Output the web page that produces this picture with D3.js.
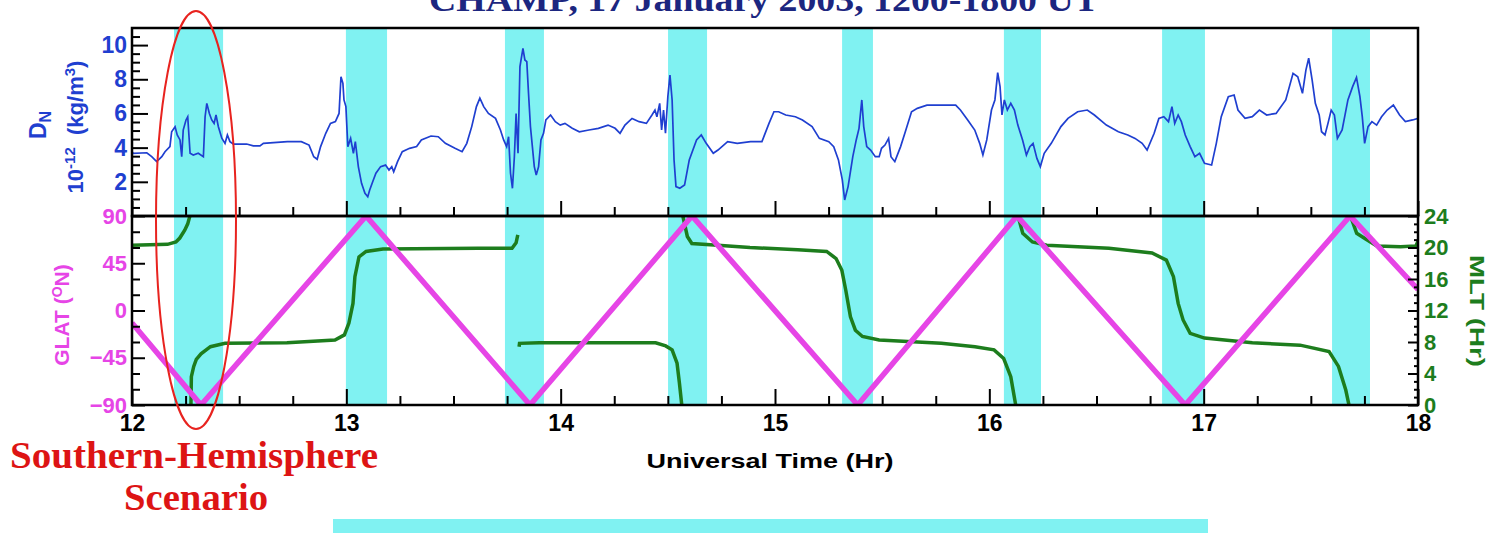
<!DOCTYPE html>
<html>
<head>
<meta charset="utf-8">
<script src="https://cdn.jsdelivr.net/npm/d3@7"></script>
<style>
  body { margin: 0; background: #fff; }
  svg { display: block; }
  .tick text { font-family: "Liberation Sans", Arial, sans-serif; font-weight: bold; }
</style>
</head>
<body>
<svg id="chart" width="1497" height="533"></svg>
<script>
// shaded intervals (UT hours)
var bandStart = [12.196, 12.998, 13.740, 14.501, 15.313, 16.068, 16.806, 17.599];
var bandEnd   = [12.425, 13.190, 13.922, 14.683, 15.457, 16.241, 17.006, 17.776];

// neutral density, 10^-12 kg/m3  [UT, DN]
var dnData = [
  [12.000,3.76],[12.006,3.67],[12.069,3.70],[12.092,3.47],[12.115,3.18],[12.139,3.47],[12.154,3.76],[12.177,4.06],
  [12.185,4.93],[12.201,5.22],[12.211,4.74],[12.224,4.45],[12.232,3.47],[12.239,5.03],[12.252,5.62],[12.260,5.81],
  [12.271,3.67],[12.286,3.57],[12.309,3.67],[12.333,3.47],[12.341,5.81],[12.349,6.59],[12.361,6.00],[12.372,5.62],
  [12.383,5.42],[12.392,5.91],[12.403,5.22],[12.419,4.55],[12.434,4.25],[12.445,4.74],[12.457,4.35],[12.473,4.21],
  [12.535,4.21],[12.566,4.10],[12.597,4.10],[12.613,4.25],[12.725,4.35],[12.790,4.35],[12.826,4.15],[12.848,3.47],
  [12.864,3.32],[12.880,4.06],[12.904,4.84],[12.926,5.42],[12.949,5.52],[12.966,6.00],[12.975,8.15],[12.984,7.76],
  [12.989,6.79],[12.998,6.40],[13.007,4.06],[13.020,4.54],[13.033,3.67],[13.042,4.35],[13.056,2.89],[13.071,1.91],
  [13.087,1.33],[13.100,1.13],[13.109,1.52],[13.123,2.00],[13.138,2.50],[13.160,2.89],[13.183,2.98],[13.199,2.69],
  [13.212,2.89],[13.221,2.59],[13.239,3.18],[13.261,3.76],[13.295,3.96],[13.328,4.06],[13.350,4.45],[13.395,4.68],
  [13.429,4.64],[13.462,4.25],[13.507,3.96],[13.540,3.76],[13.562,4.25],[13.585,5.23],[13.607,6.40],[13.623,6.89],
  [13.641,6.40],[13.663,6.00],[13.696,5.71],[13.719,5.03],[13.734,4.45],[13.748,4.06],[13.757,4.64],[13.766,2.50],
  [13.775,1.62],[13.784,3.47],[13.792,6.00],[13.801,3.67],[13.810,8.74],[13.824,9.81],[13.833,9.13],[13.842,9.03],
  [13.850,7.18],[13.859,5.23],[13.868,4.06],[13.877,2.89],[13.886,2.40],[13.897,2.89],[13.908,4.45],[13.920,4.84],
  [13.931,5.62],[13.953,5.91],[13.975,5.52],[13.998,5.32],[14.020,5.42],[14.054,5.13],[14.087,4.93],[14.132,5.03],
  [14.176,5.13],[14.221,5.32],[14.254,5.13],[14.277,4.84],[14.300,5.32],[14.333,5.71],[14.366,5.52],[14.400,5.42],
  [14.426,5.91],[14.440,6.20],[14.449,5.81],[14.462,6.59],[14.471,5.03],[14.480,6.20],[14.489,4.84],[14.500,6.98],
  [14.510,8.25],[14.520,6.79],[14.529,3.28],[14.538,1.72],[14.556,1.62],[14.578,1.81],[14.600,3.28],[14.634,4.45],
  [14.656,4.74],[14.679,4.25],[14.712,3.67],[14.734,3.86],[14.779,4.35],[14.824,4.25],[14.886,4.35],[14.939,4.35],
  [14.972,5.42],[14.995,6.10],[15.017,6.10],[15.050,5.91],[15.095,5.81],[15.128,5.62],[15.173,5.23],[15.207,4.54],
  [15.251,4.35],[15.274,4.06],[15.296,3.28],[15.314,2.11],[15.325,0.94],[15.341,1.72],[15.363,3.47],[15.379,4.45],
  [15.392,5.13],[15.405,6.79],[15.414,5.23],[15.428,4.06],[15.446,3.86],[15.468,3.47],[15.486,3.47],[15.497,3.96],
  [15.513,4.15],[15.530,4.54],[15.541,3.47],[15.559,3.18],[15.586,4.06],[15.608,4.93],[15.637,6.10],[15.664,6.30],
  [15.709,6.49],[15.753,6.49],[15.843,6.49],[15.865,6.20],[15.899,5.62],[15.932,5.03],[15.955,4.25],[15.970,3.57],
  [15.988,4.45],[16.010,6.20],[16.026,6.79],[16.039,8.39],[16.050,7.57],[16.059,5.91],[16.070,6.79],[16.084,6.20],
  [16.100,6.59],[16.117,6.20],[16.133,5.32],[16.155,4.45],[16.173,3.57],[16.189,4.06],[16.204,4.25],[16.222,3.37],
  [16.238,2.89],[16.256,3.67],[16.289,4.25],[16.334,5.23],[16.367,5.71],[16.412,6.10],[16.457,6.20],[16.490,5.91],
  [16.546,5.32],[16.602,4.93],[16.646,4.74],[16.680,4.54],[16.713,4.25],[16.736,3.86],[16.769,4.84],[16.791,5.71],
  [16.814,5.81],[16.836,5.52],[16.852,6.40],[16.865,5.42],[16.881,5.91],[16.896,5.52],[16.914,4.74],[16.937,4.06],
  [16.959,3.47],[16.981,3.67],[17.004,3.08],[17.037,2.98],[17.059,4.25],[17.082,5.81],[17.115,6.98],[17.142,7.08],
  [17.160,6.20],[17.193,5.71],[17.227,5.81],[17.260,6.20],[17.294,5.91],[17.338,6.00],[17.383,6.79],[17.417,8.35],
  [17.439,8.15],[17.461,7.18],[17.477,8.54],[17.490,9.23],[17.506,7.96],[17.521,6.59],[17.539,5.91],[17.550,4.93],
  [17.566,4.74],[17.580,5.42],[17.595,6.20],[17.610,5.91],[17.624,4.54],[17.646,5.03],[17.673,6.79],[17.695,7.57],
  [17.713,8.11],[17.729,6.98],[17.740,5.81],[17.751,4.25],[17.767,5.23],[17.785,5.52],[17.807,5.32],[17.830,5.81],
  [17.856,6.20],[17.885,6.49],[17.914,5.91],[17.941,5.52],[17.975,5.62],[18.000,5.71]
];

// geographic latitude turning points [UT, deg N]
var latData = [[12.0,-12],[12.322,-90],[13.092,90],[13.857,-90],[14.613,90],[15.386,-90],[16.129,90],[16.914,-90],[17.683,90],[18.0,20]];

// magnetic local time [UT, hr], null = wrap/gap
var mltData = [
  [12.000,20.3],[12.166,20.4],[12.205,20.7],[12.223,21.2],[12.246,22.2],[12.260,23.0],[12.270,24.0],null,
  [12.275,0],[12.277,3.6],[12.288,4.9],[12.300,5.8],[12.322,6.5],[12.366,7.4],[12.434,7.83],[12.723,7.9],[12.947,8.25],
  [12.991,8.9],[13.012,10.4],[13.031,12.9],[13.040,16.3],[13.059,18.8],[13.092,19.5],[13.171,19.8],[13.614,19.9],
  [13.773,19.9],[13.792,20.6],[13.800,21.6],null,
  [13.806,7.4],[13.808,7.83],[13.900,7.9],[14.443,7.9],[14.490,7.5],[14.520,7.0],[14.543,5.3],[14.554,2.8],[14.565,0],null,
  [14.570,24],[14.591,21.4],[14.612,20.5],[14.733,20.3],[14.883,20.0],[15.106,19.7],[15.241,19.5],[15.285,18.6],
  [15.312,17.1],[15.330,14.6],[15.352,11.2],[15.375,9.5],[15.408,8.7],[15.486,8.25],[15.776,7.83],[15.933,7.4],
  [16.022,7.0],[16.067,5.9],[16.100,3.6],[16.123,0],null,
  [16.134,24],[16.156,21.8],[16.201,20.7],[16.268,20.3],[16.558,19.9],[16.759,19.3],[16.826,18.4],[16.859,16.3],
  [16.881,12.9],[16.904,10.8],[16.937,9.1],[17.004,8.5],[17.227,7.9],[17.450,7.6],[17.585,6.8],[17.629,4.9],
  [17.663,1.9],[17.678,0],null,
  [17.685,24],[17.714,21.8],[17.763,20.95],[17.808,20.2],[17.919,20.1],[17.990,20.2],[18.000,20.8]
];

var hourTicks = [12, 13, 14, 15, 16, 17, 18];
var dnTicks = [2, 4, 6, 8, 10];
var latTicks = [-90, -45, 0, 45, 90];
var mltTicks = [0, 4, 8, 12, 16, 20, 24];

var svg = d3.select('#chart');
var x = d3.scaleLinear().domain([12, 18]).range([132, 1418]);
var yDN = d3.scaleLinear().domain([0, 11]).range([216, 28]);
var yLat = d3.scaleLinear().domain([-90, 90]).range([405, 216]);
var yMLT = d3.scaleLinear().domain([0, 24]).range([405, 216]);

var blue = '#1f3fd0', magenta = '#e645e6', green = '#1d7d1d', cyan = '#80f2f2';
var sans = '"Liberation Sans", Arial, sans-serif';
var serif = '"Liberation Serif", "Times New Roman", serif';

var defs = svg.append('defs');
defs.append('clipPath').attr('id', 'clipTop').append('rect')
  .attr('x', 132).attr('y', 28).attr('width', 1286).attr('height', 188);
defs.append('clipPath').attr('id', 'clipBot').append('rect')
  .attr('x', 132).attr('y', 216).attr('width', 1286).attr('height', 189);

// title (partly cut off at top)
svg.append('text')
  .attr('x', 764).attr('y', 11)
  .attr('text-anchor', 'middle')
  .attr('font-family', serif)
  .attr('font-weight', 'bold').attr('font-size', 34)
  .attr('fill', '#1c2680')
  .attr('textLength', 670).attr('lengthAdjust', 'spacingAndGlyphs')
  .text('CHAMP, 17 January 2003, 1200-1800 UT');

// cyan bands
svg.append('g').selectAll('rect')
  .data(bandStart)
  .enter().append('rect')
  .attr('x', function(d) { return x(d); })
  .attr('width', function(d, i) { return x(bandEnd[i]) - x(d); })
  .attr('y', 28).attr('height', 405 - 28)
  .attr('fill', cyan);

// DN line
var dnLine = d3.line()
  .x(function(d) { return x(d[0]); })
  .y(function(d) { return yDN(d[1]); });
svg.append('path')
  .datum(dnData)
  .attr('clip-path', 'url(#clipTop)')
  .attr('d', dnLine)
  .attr('fill', 'none')
  .attr('stroke', blue)
  .attr('stroke-width', 1.7);

// MLT line
var mltLine = d3.line()
  .defined(function(d) { return d !== null; })
  .x(function(d) { return x(d[0]); })
  .y(function(d) { return yMLT(d[1]); });
svg.append('path')
  .datum(mltData)
  .attr('clip-path', 'url(#clipBot)')
  .attr('d', mltLine)
  .attr('fill', 'none')
  .attr('stroke', green)
  .attr('stroke-width', 3.5);

// GLAT line
var latLine = d3.line()
  .x(function(d) { return x(d[0]); })
  .y(function(d) { return yLat(d[1]); });
svg.append('path')
  .datum(latData)
  .attr('clip-path', 'url(#clipBot)')
  .attr('d', latLine)
  .attr('fill', 'none')
  .attr('stroke', magenta)
  .attr('stroke-width', 5.5);

// axes
function addAxis(axis, tx, ty, color, size) {
  var g = svg.append('g')
    .attr('transform', 'translate(' + tx + ',' + ty + ')')
    .call(axis);
  g.select('.domain').remove();
  g.selectAll('.tick line').attr('stroke', '#000').attr('stroke-width', 2);
  g.selectAll('.tick text').attr('fill', color).attr('font-size', size);
  return g;
}
function minors(step, lo, hi, skip) {
  return d3.range(lo, hi + step / 2, step).filter(function(v) {
    return Math.abs(v / skip - Math.round(v / skip)) > 1e-6;
  });
}

addAxis(d3.axisLeft(yDN).tickValues(dnTicks).tickSize(-16).tickPadding(5), 132, 0, blue, 23);
addAxis(d3.axisLeft(yDN).tickValues(minors(0.5, 0.5, 10.5, 2)).tickSize(-8).tickFormat(''), 132, 0, blue, 0);

addAxis(d3.axisLeft(yLat).tickValues(latTicks).tickSize(-13).tickPadding(5), 132, 0, magenta, 22);
addAxis(d3.axisLeft(yLat).tickValues(minors(15, -75, 75, 45)).tickSize(-8).tickFormat(''), 132, 0, magenta, 0);

addAxis(d3.axisRight(yMLT).tickValues(mltTicks).tickSize(-10).tickPadding(6), 1418, 0, green, 22);
addAxis(d3.axisRight(yMLT).tickValues(minors(1, 1, 23, 4)).tickSize(-4).tickFormat(''), 1418, 0, green, 0);

addAxis(d3.axisBottom(x).tickValues(hourTicks).tickSize(-16).tickPadding(10).tickFormat(d3.format('d')), 0, 405, '#000', 23);
addAxis(d3.axisBottom(x).tickValues(minors(0.25, 12.25, 17.75, 1)).tickSize(-9).tickFormat(''), 0, 405, '#000', 0);
addAxis(d3.axisBottom(x).tickValues(hourTicks).tickSize(-15).tickFormat(''), 0, 216, '#000', 0);
addAxis(d3.axisBottom(x).tickValues(minors(0.25, 12.25, 17.75, 1)).tickSize(-9).tickFormat(''), 0, 216, '#000', 0);

// frames
svg.append('rect').attr('x', 132).attr('y', 28).attr('width', 1286).attr('height', 188)
  .attr('fill', 'none').attr('stroke', '#000').attr('stroke-width', 2.5);
svg.append('rect').attr('x', 132).attr('y', 216).attr('width', 1286).attr('height', 189)
  .attr('fill', 'none').attr('stroke', '#000').attr('stroke-width', 2.5);

// axis titles
var t1 = svg.append('text')
  .attr('transform', 'translate(46,125) rotate(-90)')
  .attr('text-anchor', 'middle')
  .attr('font-family', sans).attr('font-weight', 'bold').attr('font-size', 23)
  .attr('fill', blue);
t1.append('tspan').text('D');
t1.append('tspan').attr('font-size', 16).attr('dy', 5).text('N');

var t2 = svg.append('text')
  .attr('transform', 'translate(83,127) rotate(-90)')
  .attr('text-anchor', 'middle')
  .attr('font-family', sans).attr('font-weight', 'bold').attr('font-size', 22)
  .attr('fill', blue);
t2.append('tspan').text('10');
t2.append('tspan').attr('font-size', 15).attr('dy', -8).text('-12');
t2.append('tspan').attr('dy', 8).text('\u00a0 (kg/m');
t2.append('tspan').attr('font-size', 15).attr('dy', -8).text('3');
t2.append('tspan').attr('dy', 8).text(')');

var t3 = svg.append('text')
  .attr('transform', 'translate(69,315) rotate(-90)')
  .attr('text-anchor', 'middle')
  .attr('font-family', sans).attr('font-weight', 'bold').attr('font-size', 21)
  .attr('fill', magenta);
t3.append('tspan').text('GLAT (');
t3.append('tspan').attr('font-size', 14).attr('dy', -7).text('O');
t3.append('tspan').attr('dy', 7).text('N)');

svg.append('text')
  .attr('transform', 'translate(1470,311) rotate(90)')
  .attr('text-anchor', 'middle')
  .attr('font-family', sans).attr('font-weight', 'bold').attr('font-size', 21)
  .attr('fill', green)
  .attr('textLength', 112).attr('lengthAdjust', 'spacingAndGlyphs')
  .text('MLT (Hr)');

svg.append('text')
  .attr('x', 770).attr('y', 468)
  .attr('text-anchor', 'middle')
  .attr('font-family', sans).attr('font-weight', 'bold').attr('font-size', 21)
  .attr('fill', '#000')
  .attr('textLength', 247).attr('lengthAdjust', 'spacingAndGlyphs')
  .text('Universal Time (Hr)');

// annotation
svg.append('text')
  .attr('x', 194).attr('y', 468)
  .attr('text-anchor', 'middle')
  .attr('font-family', serif)
  .attr('font-weight', 'bold').attr('font-size', 38)
  .attr('fill', '#dd1414')
  .attr('textLength', 368).attr('lengthAdjust', 'spacingAndGlyphs')
  .text('Southern-Hemisphere');
svg.append('text')
  .attr('x', 196).attr('y', 510)
  .attr('text-anchor', 'middle')
  .attr('font-family', serif)
  .attr('font-weight', 'bold').attr('font-size', 38)
  .attr('fill', '#dd1414')
  .attr('textLength', 144).attr('lengthAdjust', 'spacingAndGlyphs')
  .text('Scenario');

svg.append('ellipse')
  .attr('cx', 196).attr('cy', 220).attr('rx', 40).attr('ry', 209)
  .attr('fill', 'none').attr('stroke', '#e8231f').attr('stroke-width', 2);

// cyan strip at bottom
svg.append('rect')
  .attr('x', 333).attr('y', 519).attr('width', 875).attr('height', 14)
  .attr('fill', cyan);
</script>
</body>
</html>
